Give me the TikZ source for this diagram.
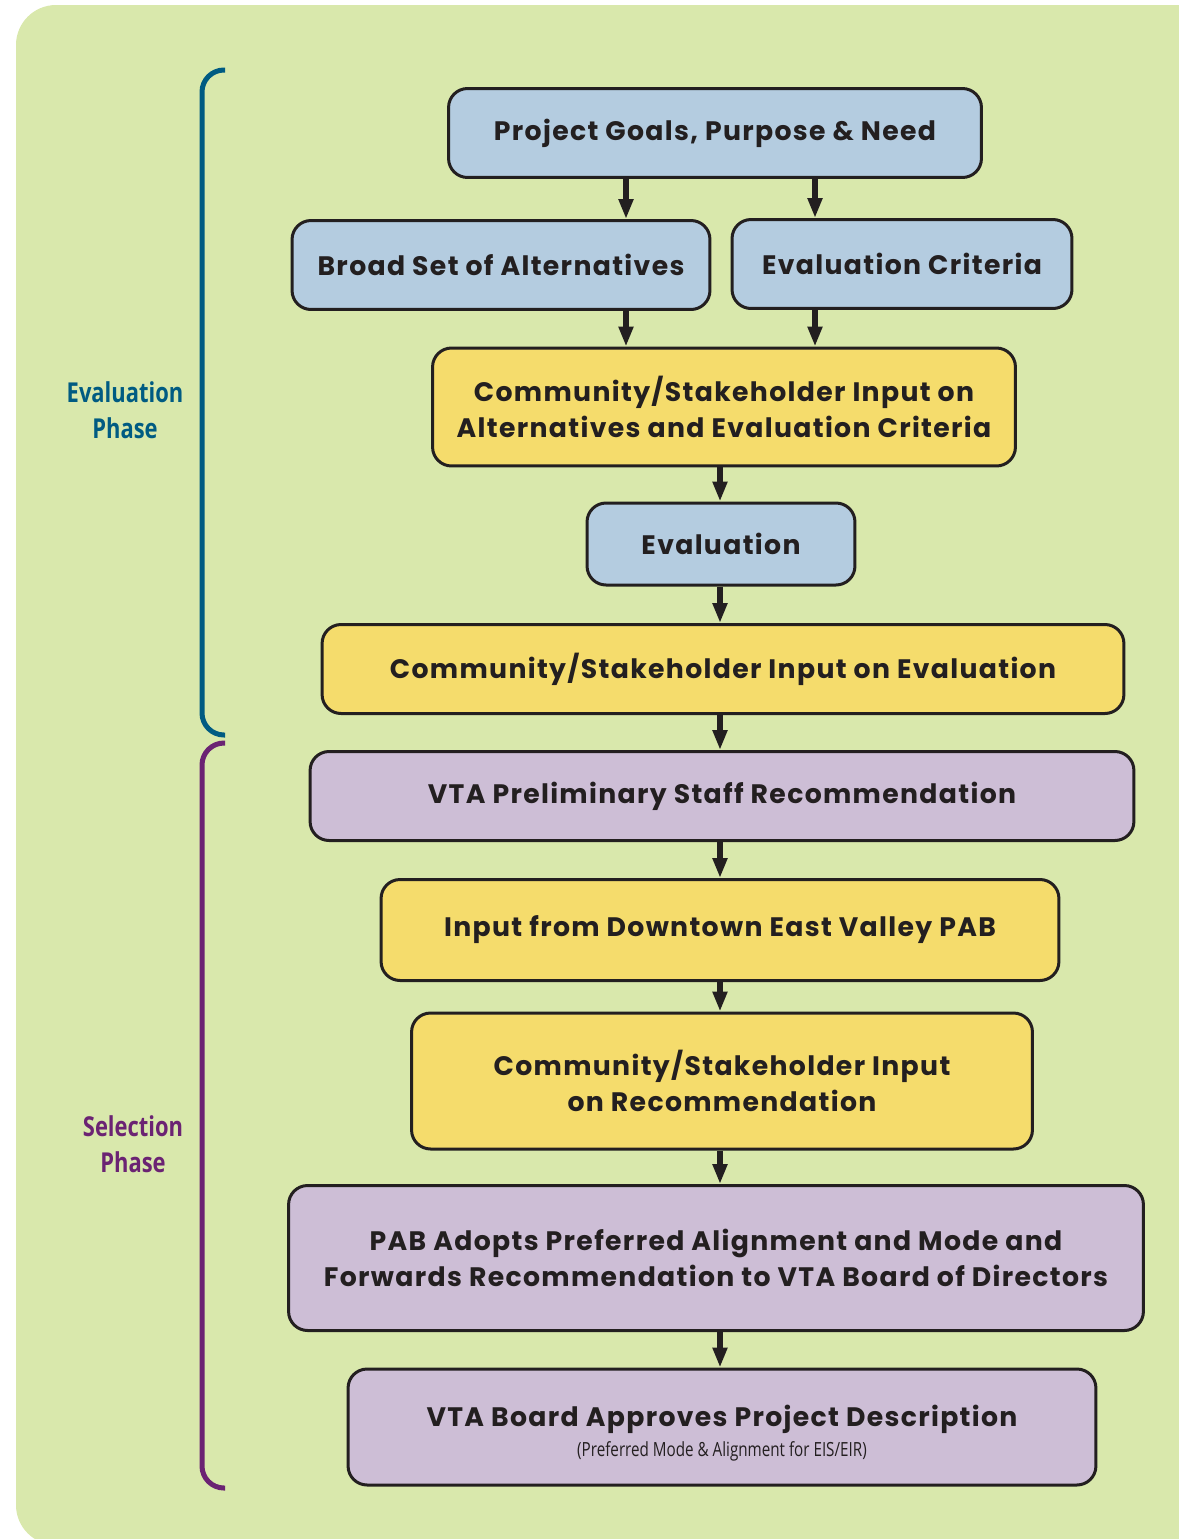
\documentclass[tikz,border=0pt]{standalone}
\usepackage{fontspec}
\setmainfont{Poppins}[LetterSpace=5]
\newfontfamily\narrowfont[FakeStretch=0.8]{Open Sans}
\newfontfamily\subfont[FakeStretch=0.78]{Open Sans}
\usepackage{tikz}
\usetikzlibrary{positioning,arrows.meta}

\definecolor{bggreen}{HTML}{D9E8AC}
\definecolor{boxblue}{HTML}{B4CCE0}
\definecolor{boxyellow}{HTML}{F5DC6C}
\definecolor{boxpurple}{HTML}{CDBED6}
\definecolor{inkdark}{HTML}{231F20}
\definecolor{evalteal}{HTML}{005B82}
\definecolor{selpurple}{HTML}{6B2373}

\begin{document}
\begin{tikzpicture}[
    x=0.02cm, y=-0.02cm,
    box/.style={rectangle, rounded corners=0.38cm, draw=inkdark, line width=0.06cm, align=center, text=inkdark, inner sep=0pt, font=\fontsize{15.2}{20.4}\selectfont\bfseries},
    blue_box/.style={box, fill=boxblue},
    yellow_box/.style={box, fill=boxyellow},
    purple_box/.style={box, fill=boxpurple},
    flow/.style={-{Triangle[length=0.4cm, width=0.28cm]}, line width=0.11cm, draw=inkdark},
    phase/.style={align=center, font=\narrowfont\bfseries\fontsize{15.6}{20.4}\selectfont},
    brace/.style={line width=0.1cm, rounded corners=0.44cm}
]
\useasboundingbox (0,0) rectangle (1179,1539);
\fill[bggreen, rounded corners=0.8cm] (16,5) rectangle (1260,1545);

% Evaluation Phase
\node[blue_box, minimum width=10.66cm, minimum height=1.78cm] (goals) at (715,133) {Project Goals, Purpose \& Need};
\node[blue_box, minimum width=8.36cm, minimum height=1.78cm] (broad_alts) at (501,265) {Broad Set of Alternatives};
\node[blue_box, minimum width=6.8cm, minimum height=1.78cm] (eval_crit) at (902,264) {Evaluation Criteria};
\node[yellow_box, minimum width=11.66cm, minimum height=2.36cm] (input_alts) at (724,407) {Community/Stakeholder Input on\\Alternatives and Evaluation Criteria};
\node[blue_box, minimum width=5.36cm, minimum height=1.64cm] (evaluation) at (721,544) {Evaluation};
\node[yellow_box, minimum width=16.04cm, minimum height=1.78cm] (input_eval) at (723,669) {Community/Stakeholder Input on Evaluation};

% Selection Phase
\node[purple_box, minimum width=16.48cm, minimum height=1.78cm] (staff_rec) at (722,796) {VTA Preliminary Staff Recommendation};
\node[yellow_box, minimum width=13.56cm, minimum height=2.02cm] (pab_input) at (720,930) {Input from Downtown East Valley PAB};
\node[yellow_box, minimum width=12.42cm, minimum height=2.72cm] (input_rec) at (722,1081) {Community/Stakeholder Input\\on Recommendation};
\node[purple_box, minimum width=17.1cm, minimum height=2.9cm] (pab_adopts) at (716,1258) {PAB Adopts Preferred Alignment and Mode and\\Forwards Recommendation to VTA Board of Directors};
\node[purple_box, minimum width=14.96cm, minimum height=2.32cm] (board_approves) at (722,1427) {\rule{0pt}{19pt}VTA Board Approves Project Description\\[-3pt]{\subfont\mdseries\fontsize{11.1}{13}\selectfont (Preferred Mode \& Alignment for EIS/EIR)}};

% Arrows
\coordinate (left_col) at (626,0);
\coordinate (right_col) at (815,0);
\coordinate (mid_col) at (720,0);
\draw[flow] (goals.south -| left_col) -- (broad_alts.north -| left_col);
\draw[flow] (goals.south -| right_col) -- (eval_crit.north -| right_col);
\draw[flow] (broad_alts.south -| left_col) -- (input_alts.north -| left_col);
\draw[flow] (eval_crit.south -| right_col) -- (input_alts.north -| right_col);
\draw[flow] (input_alts.south -| mid_col) -- (evaluation.north -| mid_col);
\draw[flow] (evaluation.south -| mid_col) -- (input_eval.north -| mid_col);
\draw[flow] (input_eval.south -| mid_col) -- (staff_rec.north -| mid_col);
\draw[flow] (staff_rec.south -| mid_col) -- (pab_input.north -| mid_col);
\draw[flow] (pab_input.south -| mid_col) -- (input_rec.north -| mid_col);
\draw[flow] (input_rec.south -| mid_col) -- (pab_adopts.north -| mid_col);
\draw[flow] (pab_adopts.south -| mid_col) -- (board_approves.north -| mid_col);

% Phase brackets and labels
\draw[brace, evalteal] (225,70) -- (202,70) -- (202,735) -- (225,735);
\draw[brace, selpurple] (225,743) -- (202,743) -- (202,1488) -- (225,1488);
\node[phase, text=evalteal] (eval_phase) at (125,410) {Evaluation\\Phase};
\node[phase, text=selpurple] (sel_phase) at (133,1144) {Selection\\Phase};

\end{tikzpicture}
\end{document}
